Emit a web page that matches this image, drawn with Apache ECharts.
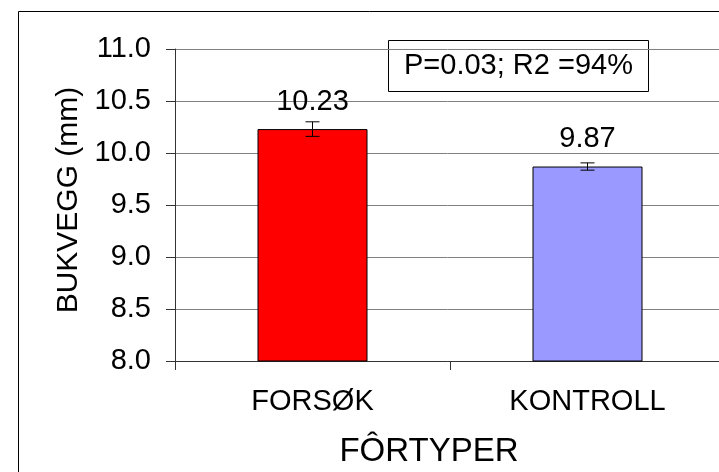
<!DOCTYPE html>
<html>
<head>
<meta charset="utf-8">
<script src="https://cdn.jsdelivr.net/npm/echarts@6/dist/echarts.min.js"></script>
<style>
html,body{margin:0;padding:0;background:#fff;}
#chart{width:719px;height:472px;}
</style>
</head>
<body>
<div id="chart"></div>
<script>
const categories = ['FORSØK', 'KONTROLL'];
const values = [10.23, 9.87];
const errors = [0.07, 0.035];
const yTicks = [8.0, 8.5, 9.0, 9.5, 10.0, 10.5, 11.0];
const statText = 'P=0.03; R2 =94%';
const xTitle = 'FÔRTYPER';
const yTitle = 'BUKVEGG (mm)';

const barColors = ['#FF0000', '#9999FF'];
const FONT = '"Liberation Sans", Arial, Helvetica, sans-serif';

const chart = echarts.init(document.getElementById('chart'), null, {renderer: 'canvas'});

const option = {
  animation: false,
  backgroundColor: '#ffffff',
  grid: {left: 175, top: 49, height: 312, width: 550, containLabel: false, outerBoundsMode: 'none'},
  xAxis: {
    type: 'category',
    data: categories,
    boundaryGap: true,
    axisLine: {show: true, lineStyle: {color: '#333333', width: 1}},
    axisTick: {show: true, length: 9, inside: false, alignWithLabel: false, lineStyle: {color: '#333333'}},
    axisLabel: {margin: 26, fontSize: 29, fontFamily: FONT, color: '#000'},
    name: xTitle,
    nameLocation: 'middle',
    nameGap: 74,
    nameTextStyle: {fontSize: 33, fontFamily: FONT, color: '#000', padding: [0, 42, 0, 0]}
  },
  yAxis: {
    type: 'value',
    min: yTicks[0],
    max: yTicks[yTicks.length - 1],
    interval: 0.5,
    axisLine: {show: true, lineStyle: {color: '#333333', width: 1}},
    axisTick: {show: true, length: 9, inside: false, lineStyle: {color: '#333333'}},
    axisLabel: {margin: 24, fontSize: 29, fontFamily: FONT, color: '#000', formatter: v => v.toFixed(1)},
    splitLine: {show: true, lineStyle: {color: '#808080', width: 1}},
    name: yTitle,
    nameLocation: 'middle',
    nameGap: 78,
    nameRotate: 90,
    nameTextStyle: {fontSize: 30, fontFamily: FONT, color: '#000', padding: [0, 0, 0, 10]}
  },
  series: [
    {
      type: 'bar',
      data: values,
      barWidth: '40%',
      itemStyle: {
        color: p => barColors[p.dataIndex],
        borderColor: '#000',
        borderWidth: 1
      },
      label: {
        show: true,
        position: 'top',
        distance: 13,
        fontSize: 29,
        fontFamily: FONT,
        color: '#000',
        formatter: p => p.value.toFixed(2)
      },
      z: 2
    },
    {
      type: 'custom',
      data: categories.map((c, i) => [i, values[i], errors[i]]),
      renderItem: function (params, api) {
        const xi = api.value(0);
        const v = api.value(1);
        const e = api.value(2);
        const top = api.coord([xi, v + e]);
        const bot = api.coord([xi, v - e]);
        const hw = 7;
        const style = {stroke: '#000', lineWidth: 1};
        return {
          type: 'group',
          children: [
            {type: 'line', shape: {x1: top[0], y1: top[1], x2: bot[0], y2: bot[1]}, style: style},
            {type: 'line', shape: {x1: top[0] - hw, y1: top[1], x2: top[0] + hw, y2: top[1]}, style: style},
            {type: 'line', shape: {x1: bot[0] - hw, y1: bot[1], x2: bot[0] + hw, y2: bot[1]}, style: style}
          ]
        };
      },
      z: 3
    }
  ],
  graphic: [
    {
      type: 'rect',
      left: 16, top: 9,
      shape: {x: 0.5, y: 0.5, width: 800, height: 600},
      style: {fill: 'none', stroke: '#000', lineWidth: 1},
      silent: true,
      z: 10
    },
    {
      type: 'group',
      left: 388, top: 40,
      z: 10,
      children: [
        {
          type: 'rect',
          shape: {x: 0.5, y: 0.5, width: 260, height: 51},
          style: {fill: '#fff', stroke: '#000', lineWidth: 1}
        },
        {
          type: 'text',
          x: 130.5, y: 26,
          style: {text: statText, fontSize: 29, fontFamily: FONT, fill: '#000', align: 'center', verticalAlign: 'middle'}
        }
      ]
    }
  ]
};
chart.setOption(option);
</script>
</body>
</html>
